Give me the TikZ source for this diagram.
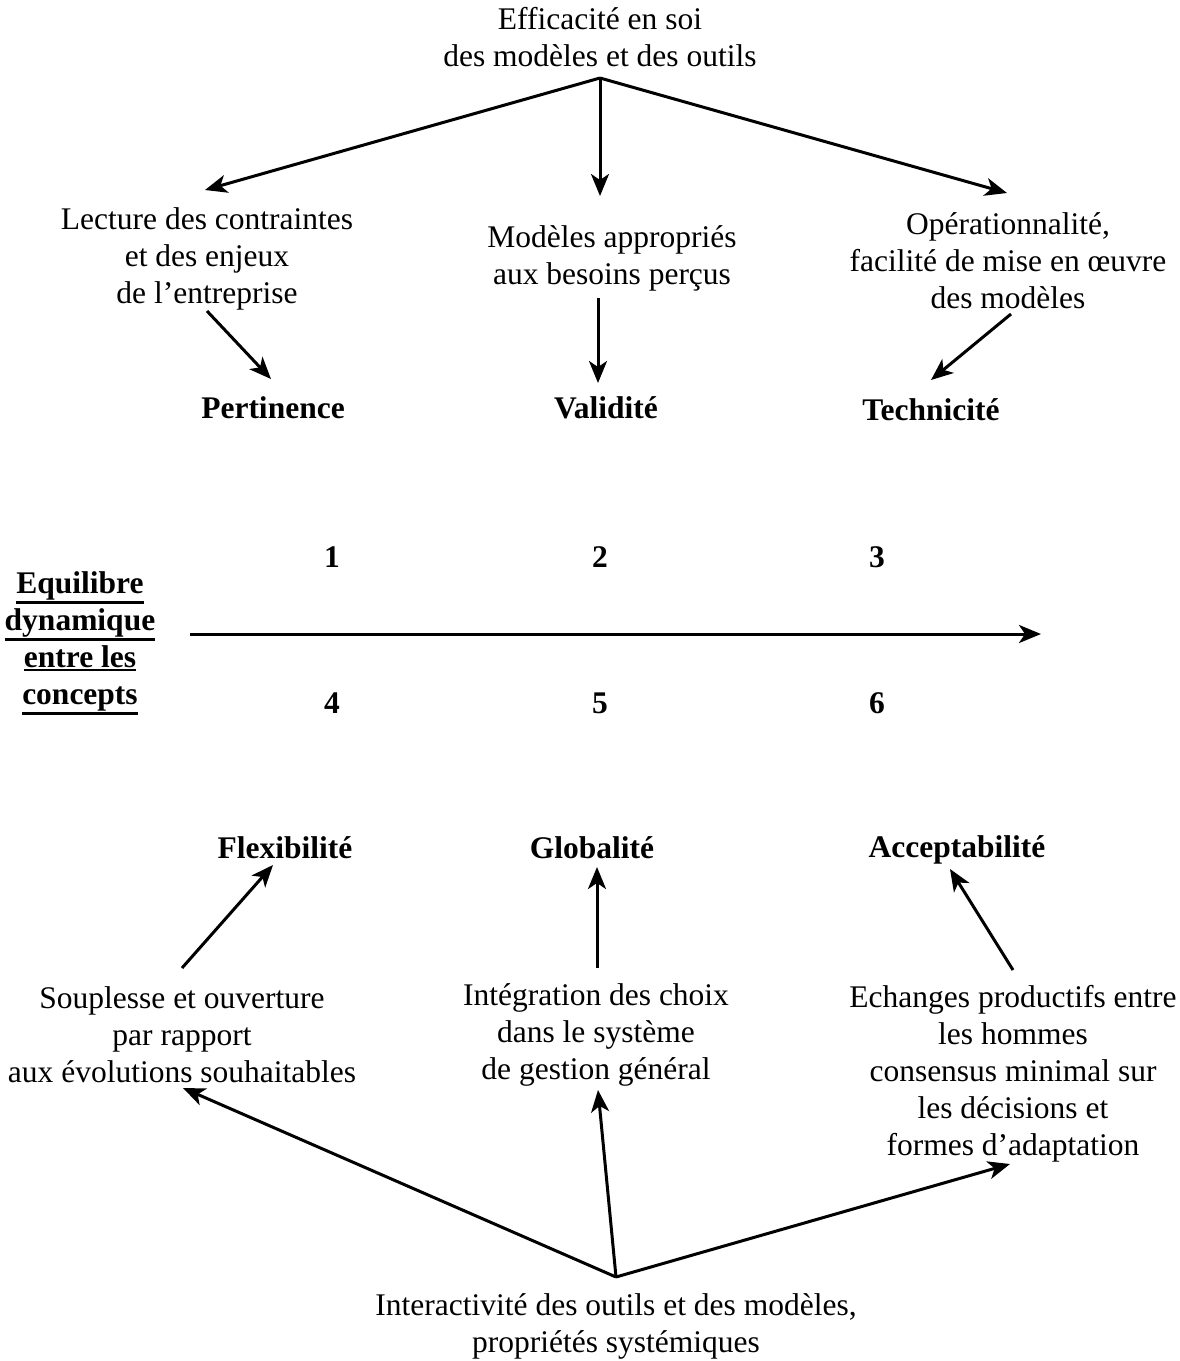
\documentclass[tikz,border=0pt]{standalone}
\usepackage{fontspec}
\setmainfont{Liberation Serif}
\usetikzlibrary{arrows.meta}
% underline with a heavier rule
\newcommand\thickul[1]{\begingroup\setbox0\hbox{#1}\vtop{\copy0\kern1.5pt\hrule height 2.4pt}\endgroup}
\begin{document}
\begin{tikzpicture}[x=1pt,y=-1pt,
  txt/.style={align=center,inner sep=0pt,font=\fontsize{31.5}{37}\selectfont},
  hd/.style={inner sep=0pt,font=\fontsize{31.5}{37}\selectfont\bfseries},
  arr/.style={line width=3pt,-{Stealth[length=22pt,width=18pt,inset=6pt]}}]
\useasboundingbox (0,0) rectangle (1179,1361);

% top source
\node[txt] (top) at (600,37) {Efficacité en soi\\des modèles et des outils};
\coordinate (apex) at (600,78);

% upper statements
\node[txt] (lect) at (207,259) {Lecture des contraintes\\et des enjeux\\de l’entreprise};
\node[txt] (mod) at (612,258) {Modèles appropriés\\aux besoins perçus};
\node[txt] (oper) at (1008,261) {Opérationnalité,\\facilité de mise en œuvre\\des modèles};

\coordinate (lectIn) at (205,190);
\coordinate (modIn) at (600,196);
\coordinate (operIn) at (1007,193);
\draw[arr] (apex) -- (lectIn);
\draw[arr] (apex) -- (modIn);
\draw[arr] (apex) -- (operIn);

% upper concepts
\node[hd] (pert) at (273,408) {Pertinence};
\node[hd] (vali) at (606,408) {Validité};
\node[hd] (tech) at (931,410) {Technicité};

\coordinate (lectOut) at (207,311);
\coordinate (pertIn) at (271,379);
\coordinate (modOut) at (598,298);
\coordinate (valiIn) at (598,383);
\coordinate (operOut) at (1011,314);
\coordinate (techIn) at (931,380);
\draw[arr] (lectOut) -- (pertIn);
\draw[arr] (modOut) -- (valiIn);
\draw[arr] (operOut) -- (techIn);

% numbers
\node[hd] (n1) at (332,557) {1};
\node[hd] (n2) at (600,557) {2};
\node[hd] (n3) at (877,557) {3};
\node[hd] (n4) at (332,703) {4};
\node[hd] (n5) at (600,703) {5};
\node[hd] (n6) at (877,703) {6};

% central axis
\node[hd,align=center] (eq) at (80,643) {\thickul{Equilibre}\\\thickul{dynamique}\\\thickul{entre les}\\\thickul{concepts}};
\coordinate (axisA) at (190,634);
\coordinate (axisB) at (1041,634);
\draw[arr] (axisA) -- (axisB);

% lower concepts
\node[hd] (flex) at (285,848) {Flexibilité};
\node[hd] (glob) at (592,848) {Globalité};
\node[hd] (acc) at (957,850) {Acceptabilité};

% lower statements
\node[txt] (soup) at (182,1035) {Souplesse et ouverture\\par rapport\\aux évolutions souhaitables};
\node[txt] (integ) at (596,1035) {Intégration des choix\\dans le système\\de gestion général};
\node[txt] (ech) at (1013,1074) {Echanges productifs entre\\les hommes\\consensus minimal sur\\les décisions et\\formes d’adaptation};

\coordinate (soupOut) at (182,968);
\coordinate (flexIn) at (273,865);
\coordinate (integOut) at (597,968);
\coordinate (globIn) at (597,867);
\coordinate (echOut) at (1013,970);
\coordinate (accIn) at (950,869);
\draw[arr] (soupOut) -- (flexIn);
\draw[arr] (integOut) -- (globIn);
\draw[arr] (echOut) -- (accIn);

% bottom source
\node[txt] (bot) at (616,1326) {Interactivité des outils et des modèles,\\propriétés systémiques};
\coordinate (base) at (616,1277);
\coordinate (soupIn) at (183,1088);
\coordinate (integIn) at (598,1090);
\coordinate (echIn) at (1010,1164);
\draw[arr] (base) -- (soupIn);
\draw[arr] (base) -- (integIn);
\draw[arr] (base) -- (echIn);
\end{tikzpicture}
\end{document}
